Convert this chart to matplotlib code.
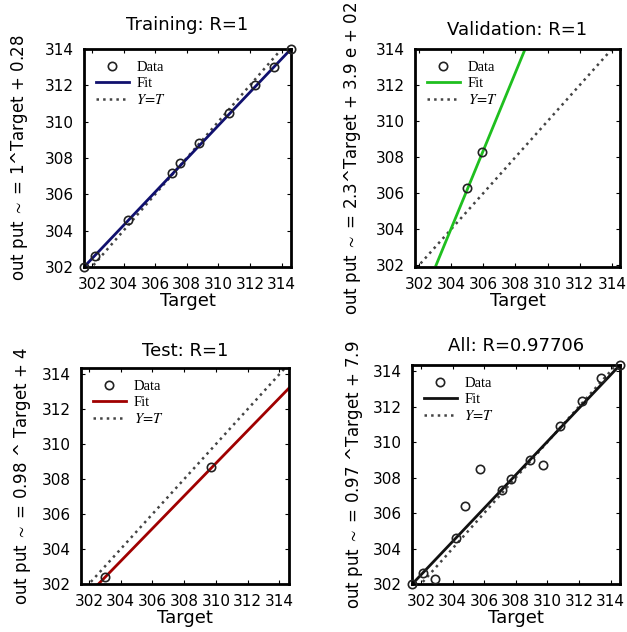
import matplotlib
matplotlib.use("Agg")
import matplotlib.pyplot as plt

plt.rcParams["mathtext.fontset"] = "stix"

# data (target, output)
train_t = [301.5, 302.2, 304.3, 307.1, 307.6, 308.8, 310.7, 312.3, 313.5, 314.6]
train_y = [302.0, 302.6, 304.6, 307.2, 307.7, 308.8, 310.5, 312.0, 313.0, 314.0]
val_t = [305.0, 305.9]
val_y = [306.3, 308.3]
test_t = [303.0, 309.7]
test_y = [302.4, 308.7]
all_t = [301.45, 302.1, 302.9, 304.2, 304.8, 305.75, 307.1, 307.7, 308.9, 309.7, 310.8, 312.2, 313.4, 314.6]
all_y = [302.0, 302.6, 302.3, 304.6, 306.4, 308.5, 307.3, 307.9, 309.0, 308.7, 310.9, 312.3, 313.6, 314.35]

# fitted line end points (target, output)
train_fit_t = [301.5, 314.6]
train_fit_y = [302.0, 314.0]
val_fit_t = [303.06, 308.6]
val_fit_y = [302.0, 314.0]
test_fit_t = [302.6, 314.6]
test_fit_y = [302.0, 313.2]
all_fit_t = [301.45, 314.6]
all_fit_y = [302.0, 314.35]

titles = ["Training: R=1", "Validation: R=1", "Test: R=1", "All: R=0.97706"]
ylabels = ["out put $\\sim$ = 1^Target + 0.28",
           "out put $\\sim$ = 2.3^Target + 3.9 e + 02",
           "out put $\\sim$ = 0.98 ^ Target + 4",
           "out put $\\sim$ = 0.97 ^Target + 7.9"]
ticks = [302, 304, 306, 308, 310, 312, 314]

W, H = 627, 632
fig = plt.figure(figsize=(W / 100, H / 100), dpi=100)

# pixel boxes: left, top, right, bottom
boxes = [(84, 49, 291, 267), (415, 49, 620, 267), (81, 368, 289, 584), (412, 365, 620, 584)]
xlims = [(301.5, 314.6), (301.75, 314.5), (301.5, 314.6), (301.43, 314.6)]
ylims = [(302, 314), (301.9, 314), (302, 314.35), (302, 314.35)]
title_pads = [14, 10, 9, 10]
ylabel_x = [30, 363, 33, 365]  # pixel x of the y label's right edge
fit_colors = ["#10106e", "#1fbf1f", "#a00000", "#111111"]
series = [(train_t, train_y, train_fit_t, train_fit_y),
          (val_t, val_y, val_fit_t, val_fit_y),
          (test_t, test_y, test_fit_t, test_fit_y),
          (all_t, all_y, all_fit_t, all_fit_y)]

for i, (l, t, r, b) in enumerate(boxes):
    ax = fig.add_axes([l / W, 1 - b / H, (r - l) / W, (b - t) / H])
    xs, ys, ft, fy = series[i]
    ax.plot([301, 315], [301, 315], ":", color="#444444", lw=1.8, label="$Y\\!=\\!T$", zorder=1)
    ax.plot(ft, fy, "-", color=fit_colors[i], lw=2, label="Fit", zorder=2)
    ax.plot(xs, ys, "o", mfc="none", mec="#222222", ms=6, mew=1.2, label="Data", zorder=3, clip_on=False)
    ax.set_xlim(*xlims[i])
    ax.set_ylim(*ylims[i])
    ax.set_xticks(ticks)
    ax.set_yticks(ticks)
    ax.tick_params(direction="in", top=True, right=True, labelsize=11, length=3, pad=7)
    for s in ax.spines.values():
        s.set_linewidth(2)
    ax.set_title(titles[i], fontsize=13, pad=title_pads[i])
    ax.set_xlabel("Target", fontsize=13, labelpad=0)
    ax.set_ylabel(ylabels[i], fontsize=12)
    ax.yaxis.set_label_coords((ylabel_x[i] - l) / (r - l), 0.5)
    h, lab = ax.get_legend_handles_labels()
    ax.legend([h[2], h[1], h[0]], [lab[2], lab[1], lab[0]], loc="upper left", frameon=False,
              prop={"family": "Liberation Serif", "size": 10.5}, handlelength=2.3,
              handletextpad=0.5, borderaxespad=0.4, labelspacing=0.2)

fig.savefig("out.png", dpi=100)
